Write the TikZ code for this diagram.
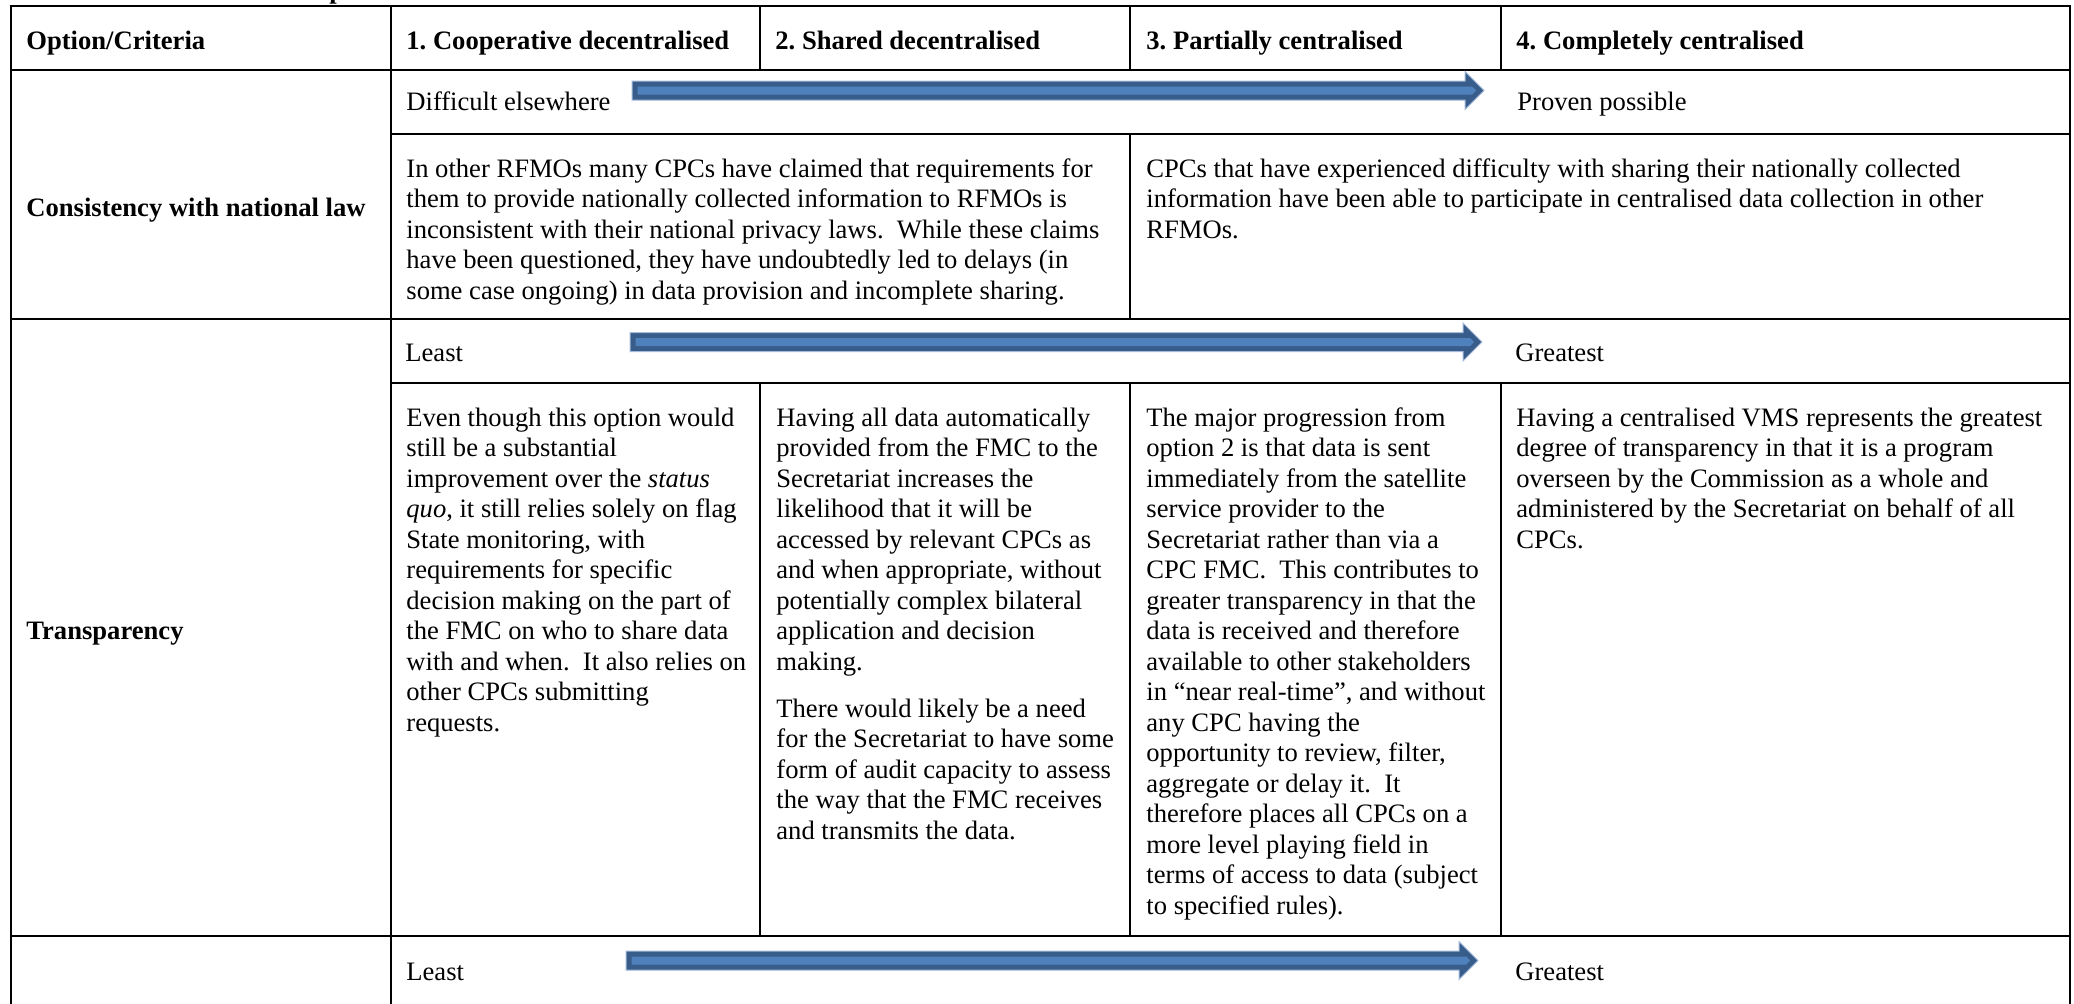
\documentclass[tikz,border=0pt]{standalone}
\usepackage{fontspec}
\setmainfont{Liberation Serif}
\frenchspacing
\definecolor{arrowdark}{HTML}{385D8A}
\definecolor{arrowfill}{HTML}{4F81BD}
\definecolor{arrowhalo}{HTML}{A3BADB}
\newcommand\bodysize{\fontsize{13.3pt}{15.25pt}\selectfont\frenchspacing}
\newcommand\cellpar[1]{\parbox[t]{560pt}{\raggedright #1}}
% block arrow: #1 = tail x, #2 = tip x, #3 = centre y
\newcommand\blockarrow[3]{%
  \fill[arrowdark, draw=arrowhalo, line width=0.5pt]
    (#1,#3-9.5) -- (#2-19,#3-9.5) -- (#2-19,#3-19) -- (#2,#3)
    -- (#2-19,#3+19) -- (#2-19,#3+9.5) -- (#1,#3+9.5) -- cycle;
  \fill[arrowfill]
    (#1+5.5,#3-4) -- (#2-11.8,#3-4) -- (#2-7.8,#3)
    -- (#2-11.8,#3+4) -- (#1+5.5,#3+4) -- cycle;
}
\tikzset{
  txt/.style={anchor=base west, inner sep=0pt, font=\bodysize},
  hdr/.style={txt, font=\bodysize\bfseries},
  rule/.style={line width=1pt, line cap=rect},
  hair/.style={line width=0.65pt},
}
\begin{document}
\begin{tikzpicture}[x=0.5pt,y=-0.5pt]
\useasboundingbox (0,0) rectangle (2074,1003);
\clip (0,0) rectangle (2074,1003);
\fill[white] (0,0) rectangle (2074,1003);

% tail of the caption line above the table
\node[hdr] (capfrag) at (329,-1.6) {p};

% column edges: 11, 391, 760, 1130, 1501, 2070
% row edges: 6, 70, 134, 319, 383, 936

% horizontal rules
\draw[rule] (11,6) -- (2070,6);
\draw[rule] (11,70) -- (2070,70);
\draw[rule] (391,134) -- (2070,134);
\draw[rule] (11,319) -- (2070,319);
\draw[rule] (391,383) -- (2070,383);
\draw[rule] (11,936) -- (2070,936);

% outer and first-column verticals
\draw[rule] (11,6) -- (11,1010);
\draw[rule] (391,6) -- (391,1010);
\draw[rule] (2070,6) -- (2070,1010);

% inner column dividers
\draw[hair] (760,6) -- (760,70);
\draw[hair] (1130,6) -- (1130,70);
\draw[hair] (1501,6) -- (1501,70);
\draw[hair] (1130,134) -- (1130,319);
\draw[hair] (760,383) -- (760,936);
\draw[hair] (1130,383) -- (1130,936);
\draw[hair] (1501,383) -- (1501,936);

% header row
\node[hdr] (hOpt) at (26,49) {Option/Criteria};
\node[hdr] (hOne) at (406,49) {1. Cooperative decentralised};
\node[hdr] (hTwo) at (775,49) {2. Shared decentralised};
\node[hdr] (hThree) at (1146,49) {3. Partially centralised};
\node[hdr] (hFour) at (1516,49) {4. Completely centralised};

% consistency with national law
\node[hdr] (lawLabel) at (26,216) {Consistency with national law};
\node[txt] (lawLo) at (406,110) {Difficult elsewhere};
\node[txt] (lawHi) at (1517,110) {Proven possible};
\blockarrow{632}{1484}{90.5}
\node[txt] (lawLeft) at (406,177) {\cellpar{%
In other RFMOs many CPCs have claimed that requirements for\\
them to provide nationally collected information to RFMOs is\\
inconsistent with their national privacy laws.\ \ While these claims\\
have been questioned, they have undoubtedly led to delays (in\\
some case ongoing) in data provision and incomplete sharing.}};
\node[txt] (lawRight) at (1146,177) {\cellpar{%
CPCs that have experienced difficulty with sharing their nationally collected\\
information have been able to participate in centralised data collection in other\\
RFMOs.}};

% transparency
\node[hdr] (trLabel) at (26,639) {Transparency};
\node[txt] (trLo) at (405,361) {Least};
\node[txt] (trHi) at (1515,361) {Greatest};
\blockarrow{630}{1482}{342}
\node[txt] (trOne) at (406,426) {\cellpar{%
Even though this option would\\
still be a substantial\\
improvement over the \textit{status}\\
\textit{quo}, it still relies solely on flag\\
State monitoring, with\\
requirements for specific\\
decision making on the part of\\
the FMC on who to share data\\
with and when.\ \ It also relies on\\
other CPCs submitting\\
requests.}};
\node[txt] (trTwo) at (776,426) {\cellpar{%
Having all data automatically\\
provided from the FMC to the\\
Secretariat increases the\\
likelihood that it will be\\
accessed by relevant CPCs as\\
and when appropriate, without\\
potentially complex bilateral\\
application and decision\\
making.\\[8.25pt]
There would likely be a need\\
for the Secretariat to have some\\
form of audit capacity to assess\\
the way that the FMC receives\\
and transmits the data.}};
\node[txt] (trThree) at (1146,426) {\cellpar{%
The major progression from\\
option 2 is that data is sent\\
immediately from the satellite\\
service provider to the\\
Secretariat rather than via a\\
CPC FMC.\ \ This contributes to\\
greater transparency in that the\\
data is received and therefore\\
available to other stakeholders\\
in “near real-time”, and without\\
any CPC having the\\
opportunity to review, filter,\\
aggregate or delay it.\ \ It\\
therefore places all CPCs on a\\
more level playing field in\\
terms of access to data (subject\\
to specified rules).}};
\node[txt] (trFour) at (1516,426) {\cellpar{%
Having a centralised VMS represents the greatest\\
degree of transparency in that it is a program\\
overseen by the Commission as a whole and\\
administered by the Secretariat on behalf of all\\
CPCs.}};

% next criterion (continues below)
\node[txt] (nxLo) at (406,980) {Least};
\node[txt] (nxHi) at (1515,980) {Greatest};
\blockarrow{626}{1478}{960.5}
\end{tikzpicture}
\end{document}
